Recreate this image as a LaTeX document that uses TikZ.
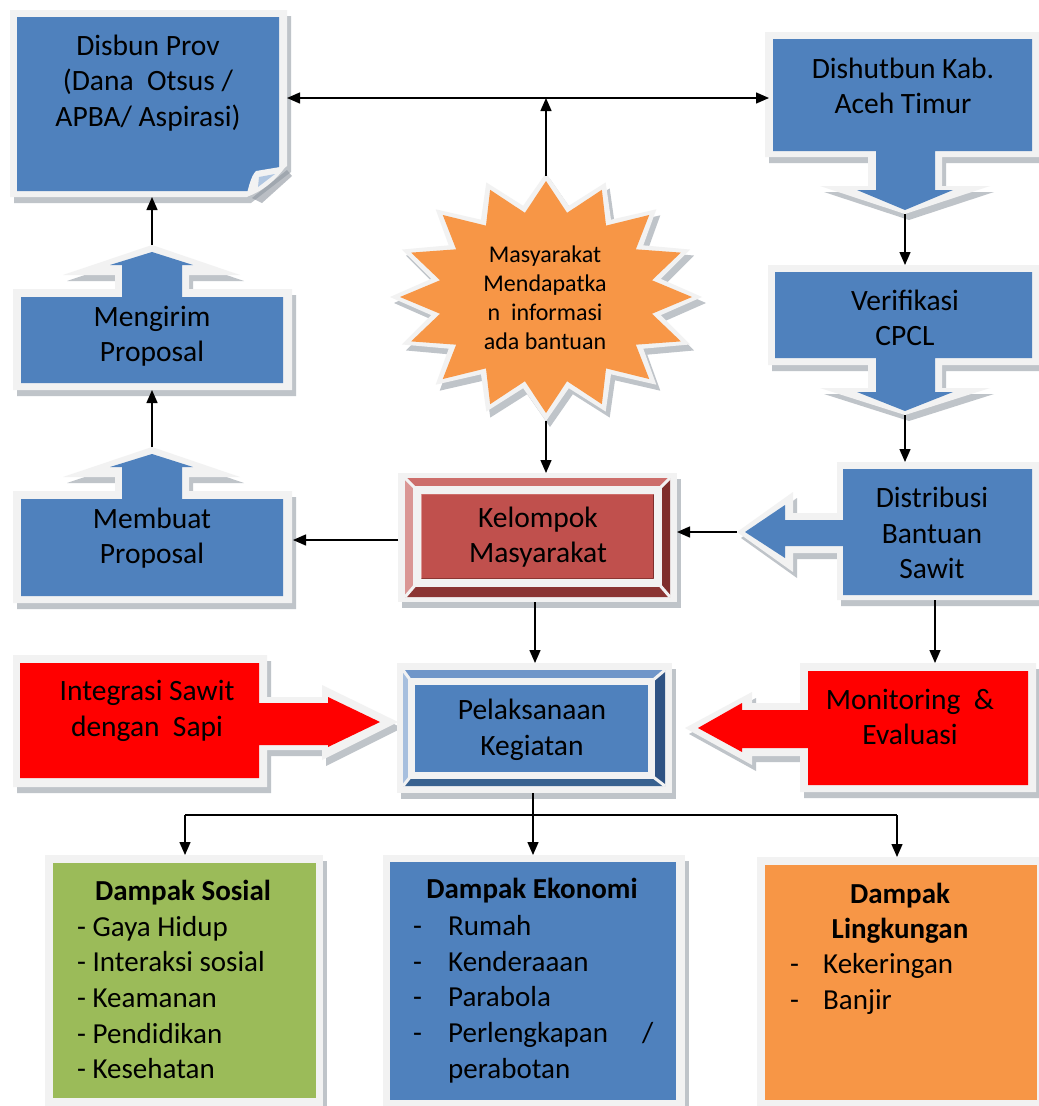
\documentclass[tikz,border=0pt]{standalone}
\usepackage{fontspec}
\setmainfont{Carlito}
\usetikzlibrary{arrows.meta}
\definecolor{cblue}{HTML}{4F81BD}
\definecolor{cred}{HTML}{FF0000}
\definecolor{cgreen}{HTML}{9BBB59}
\definecolor{corange}{HTML}{F79646}
\definecolor{cframe}{HTML}{F2F2F2}
\definecolor{cshadow}{HTML}{8C949E}
\definecolor{kmain}{HTML}{C0504D}
\definecolor{ktop}{HTML}{CD6E6B}
\definecolor{kleft}{HTML}{DA9694}
\definecolor{kright}{HTML}{7F2E2C}
\definecolor{kbot}{HTML}{8B3533}
\definecolor{ptop}{HTML}{7096C9}
\definecolor{pleft}{HTML}{A7BFDE}
\definecolor{pright}{HTML}{2F5384}
\definecolor{pbot}{HTML}{38618F}
\begin{document}
\begin{tikzpicture}[x=1pt,y=-1pt,
  shad/.style={fill=cshadow,opacity=0.55,shift={(4,6)}},
  frm/.style={fill=cframe},
  conn/.style={line width=1.4pt,-{Triangle[length=13pt,width=11pt]}},
  lbl/.style={font=\fontsize{29.5}{35.5}\selectfont, align=center, text=black, inner sep=0pt},
  stxt/.style={font=\fontsize{24}{29}\selectfont, align=center, text=black, inner sep=0pt},
  ltxt/.style={font=\fontsize{29}{35}\selectfont, text=black, inner sep=0pt, anchor=base west},
  ttxt/.style={font=\fontsize{29}{35}\selectfont\bfseries, text=black, inner sep=0pt, anchor=base}]
\useasboundingbox (0,0) rectangle (1039,1106);
\fill[white] (0,0) rectangle (1039,1106);

% ---------- Disbun Prov (folded corner) ----------
\def\pDisO{(10,10) -- (287,10) -- (287,166) -- (247,197) -- (10,197) -- cycle}
\def\pDisI{(17,17) -- (279,17) -- (279,170) -- (252,191) -- (17,191) -- cycle}
\path[shad] \pDisO;
\path[frm] \pDisO;
\path[fill=cblue] \pDisI;
\fill[cshadow,opacity=0.6] (252,198) -- (287,170) -- (292,176) -- (262,203) -- cycle;
\fill[cframe] (246,197) .. controls (249,186) and (251,176) .. (256,171) -- (286,166) .. controls (276,180) and (262,192) .. (246,197) -- cycle;
\fill[cblue!45!white] (259,177) -- (275,174) -- (258,187) -- cycle;
\node[lbl] (disbun) at (148,83) {Disbun Prov\\(Dana\ \ Otsus /\\APBA/ Aspirasi)};

% ---------- Dishutbun (down callout) ----------
\def\pDhO{(765,32) -- (1039,32) -- (1039,157) -- (942,157) -- (942,186) -- (990,186) -- (905,214) -- (820,186) -- (868,186) -- (868,157) -- (765,157) -- cycle}
\def\pDhI{(773,39) -- (1032,39) -- (1032,151) -- (935,151) -- (935,190) -- (953,190) -- (905,210) -- (857,190) -- (876,190) -- (876,151) -- (773,151) -- cycle}
\path[shad] \pDhO;
\path[frm] \pDhO;
\path[fill=cblue] \pDhI;
\node[lbl] (dishut) at (903,86) {Dishutbun Kab.\\Aceh Timur};

% ---------- Verifikasi (down callout) ----------
\def\pVfO{(768,265) -- (1039,265) -- (1039,365) -- (942,365) -- (942,388) -- (990,388) -- (905,415) -- (820,388) -- (868,388) -- (868,365) -- (768,365) -- cycle}
\def\pVfI{(775,272) -- (1032,272) -- (1032,358) -- (935,358) -- (935,392) -- (953,392) -- (905,411) -- (857,392) -- (876,392) -- (876,358) -- (775,358) -- cycle}
\path[shad] \pVfO;
\path[frm] \pVfO;
\path[fill=cblue] \pVfI;
\node[lbl] (verif) at (905,318) {Verifikasi\\CPCL};

% ---------- Distribusi (left callout) ----------
\def\pDsO{(837,462) -- (1039,462) -- (1039,600) -- (837,600) -- (837,553) -- (793,553) -- (793,572) -- (737,532) -- (793,492) -- (793,513) -- (837,513) -- cycle}
\def\pDsI{(843,469) -- (1032,469) -- (1032,595) -- (843,595) -- (843,546) -- (785,546) -- (785,558) -- (745,532) -- (785,505) -- (785,520) -- (843,520) -- cycle}
\path[shad] \pDsO;
\path[frm] \pDsO;
\path[fill=cblue] \pDsI;
\node[lbl] (distr) at (932,533) {Distribusi\\Bantuan\\Sawit};

% ---------- Monitoring (left callout) ----------
\def\pMoO{(800,663) -- (1036,663) -- (1036,792) -- (800,792) -- (800,756) -- (752,756) -- (752,765) -- (685,728) -- (752,692) -- (752,703) -- (800,703) -- cycle}
\def\pMoI{(808,671) -- (1028,671) -- (1028,785) -- (808,785) -- (808,748) -- (742,748) -- (742,752) -- (698,728) -- (742,703) -- (742,710) -- (808,710) -- cycle}
\path[shad] \pMoO;
\path[frm] \pMoO;
\path[fill=cred] \pMoI;
\node[lbl] (monev) at (910,717) {Monitoring\ \ \&\\Evaluasi};

% ---------- Integrasi (right callout) ----------
\def\pInO{(13,655) -- (267,655) -- (267,697) -- (322,697) -- (322,685) -- (398,722) -- (322,760) -- (322,750) -- (267,750) -- (267,787) -- (13,787) -- cycle}
\def\pInI{(20,663) -- (259,663) -- (259,703) -- (328,703) -- (328,697) -- (380,722) -- (328,747) -- (328,745) -- (259,745) -- (259,778) -- (20,778) -- cycle}
\path[shad] \pInO;
\path[frm] \pInO;
\path[fill=cred] \pInI;
\node[lbl] (integ) at (147,711) {Integrasi Sawit\\dengan\ \ Sapi};

% ---------- Mengirim (up callout) ----------
\def\pMgO{(13,289) -- (115,289) -- (115,275) -- (63,275) -- (152,245) -- (240,275) -- (189,275) -- (189,289) -- (292,289) -- (292,390) -- (13,390) -- cycle}
\def\pMgI{(21,297) -- (122,297) -- (122,265) -- (110,265) -- (152,252) -- (193,265) -- (182,265) -- (182,297) -- (283,297) -- (283,383) -- (21,383) -- cycle}
\path[shad] \pMgO;
\path[frm] \pMgO;
\path[fill=cblue] \pMgI;
\node[lbl] (kirim) at (152,336) {Mengirim\\Proposal};

% ---------- Membuat (up callout) ----------
\def\pMbO{(13,491) -- (115,491) -- (115,477) -- (63,477) -- (152,447) -- (240,477) -- (189,477) -- (189,491) -- (292,491) -- (292,603) -- (13,603) -- cycle}
\def\pMbI{(21,499) -- (122,499) -- (122,467) -- (110,467) -- (152,454) -- (193,467) -- (182,467) -- (182,499) -- (283,499) -- (283,596) -- (21,596) -- cycle}
\path[shad] \pMbO;
\path[frm] \pMbO;
\path[fill=cblue] \pMbI;
\node[lbl] (buat) at (152,538) {Membuat\\Proposal};

% ---------- Star ----------
\path[shad] plot[samples at={0,1,...,31}, variable=\k] ({546+(1-0.25*mod(\k,2))*156*cos(90+\k*11.25)}, {297+(1-0.25*mod(\k,2))*124*sin(90+\k*11.25)}) -- cycle;
\path[frm] plot[samples at={0,1,...,31}, variable=\k] ({546+(1-0.25*mod(\k,2))*156*cos(90+\k*11.25)}, {297+(1-0.25*mod(\k,2))*124*sin(90+\k*11.25)}) -- cycle;
\path[fill=corange] plot[samples at={0,1,...,31}, variable=\k] ({546+(1-0.26*mod(\k,2))*146*cos(90+\k*11.25)}, {297+(1-0.26*mod(\k,2))*116*sin(90+\k*11.25)}) -- cycle;
\node[stxt] (star) at (545,298) {Masyarakat\\Mendapatka\\n\ \ informasi\\ada bantuan};

% ---------- Kelompok (bevel) ----------
\path[shad] (398,473) rectangle (677,602);
\path[frm] (398,473) rectangle (677,602);
\fill[ktop] (405,478) -- (670,478) -- (653,495) -- (422,495) -- cycle;
\fill[kleft] (405,478) -- (422,495) -- (422,578) -- (405,597) -- cycle;
\fill[kright] (670,478) -- (670,597) -- (653,578) -- (653,495) -- cycle;
\fill[kbot] (405,597) -- (670,597) -- (653,578) -- (422,578) -- cycle;
\fill[kmain] (422,495) rectangle (653,578);
\draw[cframe,line width=8pt] (417,490) rectangle (658,583);
\draw[cframe,line width=3pt] (405,478) -- (417,490) (670,478) -- (658,490) (405,597) -- (417,583) (670,597) -- (658,583);
\node[lbl] (kelompok) at (538,537) {Kelompok\\Masyarakat};

% ---------- Pelaksanaan (bevel) ----------
\path[shad] (397,663) rectangle (672,793);
\path[frm] (397,663) rectangle (672,793);
\fill[ptop] (403,670) -- (665,670) -- (648,685) -- (415,685) -- cycle;
\fill[pleft] (403,670) -- (415,685) -- (415,772) -- (403,786) -- cycle;
\fill[pright] (665,670) -- (665,786) -- (648,772) -- (648,685) -- cycle;
\fill[pbot] (403,786) -- (665,786) -- (648,772) -- (415,772) -- cycle;
\fill[cblue] (415,685) rectangle (648,772);
\draw[cframe,line width=7pt] (411.5,681) rectangle (651.5,775.5);
\draw[cframe,line width=3pt] (403,670) -- (411,681) (665,670) -- (652,681) (403,786) -- (411,776) (665,786) -- (652,776);
\node[lbl] (pelaks) at (532,730) {Pelaksanaan\\Kegiatan};

% ---------- Bottom boxes ----------
\path[shad] (45,855) rectangle (323,1106);
\path[frm] (45,855) rectangle (323,1106);
\fill[cgreen] (53,863) rectangle (316,1098);
\node[ttxt] (sosT) at (183,900) {Dampak Sosial};
\node[ltxt] (sos1) at (77,936) {- Gaya Hidup};
\node[ltxt] (sos2) at (77,971.7) {- Interaksi sosial};
\node[ltxt] (sos3) at (77,1007.4) {- Keamanan};
\node[ltxt] (sos4) at (77,1043.1) {- Pendidikan};
\node[ltxt] (sos5) at (77,1078.8) {- Kesehatan};

\path[shad] (383,855) rectangle (685,1106);
\path[frm] (383,855) rectangle (685,1106);
\fill[cblue] (390,862) rectangle (676,1100);
\node[ttxt] (ekoT) at (532,898) {Dampak Ekonomi};
\node[ltxt] (eko1) at (413,935) {\makebox[35pt][l]{-}Rumah};
\node[ltxt] (eko2) at (413,971) {\makebox[35pt][l]{-}Kenderaaan};
\node[ltxt] (eko3) at (413,1006) {\makebox[35pt][l]{-}Parabola};
\node[ltxt] (eko4) at (413,1042) {\makebox[35pt][l]{-}\makebox[205pt][l]{Perlengkapan\hfill/}};
\node[ltxt] (eko5) at (448,1078) {perabotan};

\path[shad] (757,857) rectangle (1039,1106);
\path[frm] (757,857) rectangle (1039,1106);
\fill[corange] (765,865) rectangle (1037,1100);
\node[ttxt] (linT1) at (900,903) {Dampak};
\node[ttxt] (linT2) at (900,938) {Lingkungan};
\node[ltxt] (lin1) at (790,973) {\makebox[33pt][l]{-}Kekeringan};
\node[ltxt] (lin2) at (790,1009) {\makebox[33pt][l]{-}Banjir};

% ---------- Connector end points ----------
\coordinate (disbunE) at (287,98);
\coordinate (dishutW) at (769,98);
\coordinate (starN) at (546,176);
\coordinate (topMid) at (546,98);
\coordinate (dishutTip) at (905,214);
\coordinate (verifN) at (905,265);
\coordinate (verifTip) at (905,415);
\coordinate (distrN) at (905,462);
\coordinate (distrTip) at (737,532);
\coordinate (kelE) at (677,532);
\coordinate (kelW) at (398,540);
\coordinate (buatE) at (293,540);
\coordinate (buatTip) at (152,447);
\coordinate (kirimS) at (152,390);
\coordinate (kirimTip) at (152,245);
\coordinate (disbunS) at (152,197);
\coordinate (starS) at (546,421);
\coordinate (kelN) at (546,473);
\coordinate (kelS) at (535,602);
\coordinate (pelN) at (535,663);
\coordinate (distrS) at (935,600);
\coordinate (monN) at (935,663);
\coordinate (pelS) at (533,793);
\coordinate (ekoN) at (533,855);
\coordinate (brL) at (185,815);
\coordinate (brR) at (897,815);
\coordinate (sosN) at (185,855);
\coordinate (linN) at (897,857);

% ---------- Connectors ----------
\draw[conn,{Triangle[length=13pt,width=11pt]}-{Triangle[length=13pt,width=11pt]}] (disbunE) -- (dishutW);
\draw[conn] (starN) -- (topMid);
\draw[conn] (dishutTip) -- (verifN);
\draw[conn] (verifTip) -- (distrN);
\draw[conn] (distrTip) -- (kelE);
\draw[conn] (kelW) -- (buatE);
\draw[conn] (buatTip) -- (kirimS);
\draw[conn] (kirimTip) -- (disbunS);
\draw[conn] (starS) -- (kelN);
\draw[conn] (kelS) -- (pelN);
\draw[conn] (distrS) -- (monN);
\draw[conn] (pelS) -- (ekoN);
\draw[line width=1.4pt] (brL) -- (brR);
\draw[conn] (brL) -- (sosN);
\draw[conn] (brR) -- (linN);
\end{tikzpicture}
\end{document}
